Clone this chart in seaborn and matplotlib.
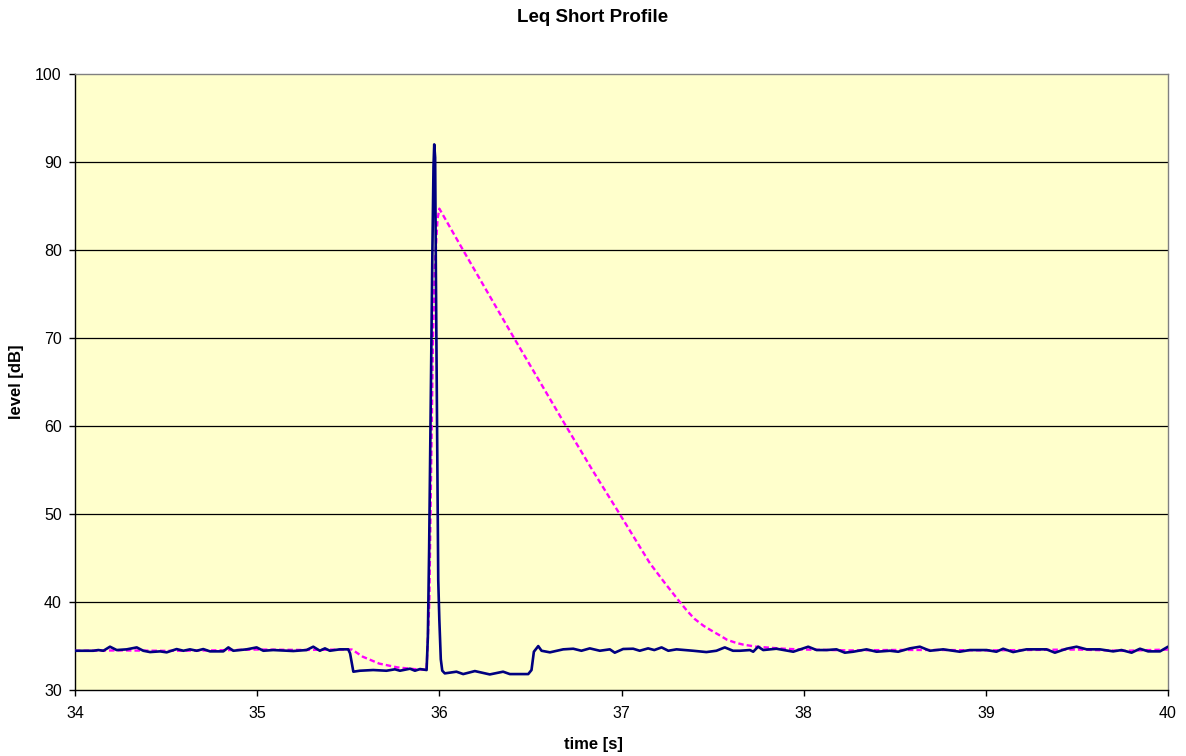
import matplotlib
matplotlib.use("Agg")
import matplotlib.pyplot as plt
import seaborn as sns

# Fast short-Leq trace (time in s, level in dB)
time_fast = [
    34.000, 34.100, 34.128, 34.156, 34.192, 34.229, 34.284, 34.339, 34.375, 34.412,
    34.467, 34.503, 34.558, 34.595, 34.631, 34.668, 34.704, 34.741, 34.814, 34.842,
    34.869, 34.942, 34.997, 35.034, 35.088, 35.198, 35.271, 35.308, 35.344, 35.372,
    35.399, 35.454, 35.500, 35.510, 35.528, 35.564, 35.637, 35.710, 35.756, 35.784,
    35.839, 35.866, 35.894, 35.930, 35.937, 35.944, 35.953, 35.962, 35.968, 35.972,
    35.977, 35.981, 35.989, 35.994, 36.000, 36.008, 36.016, 36.030, 36.094, 36.131,
    36.195, 36.277, 36.350, 36.387, 36.488, 36.506, 36.519, 36.543, 36.561, 36.607,
    36.680, 36.735, 36.780, 36.826, 36.881, 36.936, 36.963, 37.009, 37.064, 37.100,
    37.146, 37.180, 37.220, 37.257, 37.302, 37.393, 37.466, 37.521, 37.567, 37.612,
    37.650, 37.705, 37.723, 37.750, 37.778, 37.850, 37.890, 37.943, 38.025, 38.071,
    38.126, 38.180, 38.226, 38.272, 38.345, 38.400, 38.473, 38.519, 38.583, 38.638,
    38.693, 38.766, 38.857, 38.912, 39.004, 39.058, 39.095, 39.150, 39.223, 39.296,
    39.333, 39.379, 39.443, 39.498, 39.553, 39.626, 39.699, 39.745, 39.800, 39.846,
    39.891, 39.956, 40.000,
]
level_fast = [
    34.46, 34.46, 34.54, 34.46, 34.92, 34.54, 34.62, 34.84, 34.46, 34.31,
    34.39, 34.28, 34.65, 34.46, 34.62, 34.46, 34.65, 34.39, 34.39, 34.84,
    34.46, 34.62, 34.84, 34.46, 34.54, 34.43, 34.54, 34.92, 34.46, 34.73,
    34.46, 34.62, 34.62, 34.16, 32.08, 32.19, 32.27, 32.19, 32.35, 32.19,
    32.42, 32.19, 32.38, 32.27, 36.00, 46.00, 63.00, 80.00, 89.50, 92.00,
    90.50, 77.70, 55.80, 42.50, 38.00, 33.50, 32.20, 31.89, 32.08, 31.81,
    32.15, 31.77, 32.08, 31.81, 31.81, 32.27, 34.35, 34.99, 34.46, 34.28,
    34.62, 34.69, 34.46, 34.73, 34.46, 34.62, 34.24, 34.66, 34.69, 34.46,
    34.73, 34.54, 34.84, 34.46, 34.62, 34.46, 34.31, 34.46, 34.84, 34.46,
    34.46, 34.54, 34.35, 34.92, 34.54, 34.69, 34.54, 34.35, 34.92, 34.54,
    34.54, 34.62, 34.24, 34.35, 34.62, 34.35, 34.46, 34.35, 34.73, 34.92,
    34.46, 34.62, 34.35, 34.54, 34.54, 34.35, 34.69, 34.31, 34.62, 34.62,
    34.62, 34.24, 34.69, 34.92, 34.62, 34.62, 34.39, 34.54, 34.24, 34.69,
    34.39, 34.39, 34.92,
]

# Slow (decaying) envelope trace
time_slow = [
    34.00, 34.25, 34.50, 34.75, 35.00, 35.25, 35.50, 35.52, 35.58, 35.67,
    35.77, 35.86, 35.93, 35.945, 35.955, 35.965, 35.975, 35.99, 36.00, 36.13,
    36.41, 36.695, 36.84, 36.99, 37.156, 37.24, 37.32, 37.36, 37.40, 37.45,
    37.49, 37.54, 37.58, 37.63, 37.67, 37.74, 37.89, 38.00, 38.25, 38.50,
    38.75, 39.00, 39.25, 39.50, 39.75, 40.00,
]
level_slow = [
    34.45, 34.50, 34.45, 34.50, 34.60, 34.55, 34.60, 34.60, 33.78, 33.00,
    32.57, 32.38, 32.30, 40.00, 55.00, 70.00, 78.00, 83.50, 84.70, 80.00,
    70.00, 60.00, 55.00, 50.00, 44.40, 42.10, 40.00, 39.00, 38.10, 37.30,
    36.80, 36.20, 35.70, 35.35, 35.15, 34.92, 34.69, 34.60, 34.50, 34.55,
    34.55, 34.50, 34.55, 34.60, 34.45, 34.60,
]

y_ticks = [30, 40, 50, 60, 70, 80, 90, 100]
x_ticks = [34, 35, 36, 37, 38, 39, 40]

sns.set_theme(style="white")
plt.rcParams["font.family"] = ["Liberation Sans", "DejaVu Sans"]

W, H = 1186, 756
fig = plt.figure(figsize=(W / 100, H / 100), dpi=100)
fig.patch.set_facecolor("white")
left, right, top, bottom = 75, 1168, 74, 690
ax = fig.add_axes([left / W, 1 - bottom / H, (right - left) / W, (bottom - top) / H])
ax.set_facecolor("#FFFFCC")

sns.lineplot(x=time_slow, y=level_slow, ax=ax, estimator=None, sort=False,
             color="#FF00FF", linewidth=1.7, zorder=3)
ax.lines[-1].set_dashes((2.3, 1.3))
sns.lineplot(x=time_fast, y=level_fast, ax=ax, estimator=None, sort=False,
             color="#000080", linewidth=1.9, zorder=4,
             solid_joinstyle="round", solid_capstyle="round")

ax.set_xlim(34, 40)
ax.set_ylim(30, 100)
ax.set_xticks(x_ticks)
ax.set_yticks(y_ticks)
ax.set_xticklabels([str(v) for v in x_ticks])
ax.set_yticklabels([str(v) for v in y_ticks])

for y in y_ticks[1:-1]:
    ax.axhline(y, color="black", linewidth=0.9, zorder=1)

ax.spines["left"].set_color("black")
ax.spines["bottom"].set_color("black")
ax.spines["top"].set_color("#808080")
ax.spines["right"].set_color("#808080")
for s in ax.spines.values():
    s.set_linewidth(1.0)
    s.set_visible(True)

ax.tick_params(axis="both", direction="out", length=4.5, width=1.0, color="black",
               labelsize=11.5, labelcolor="black")
ax.tick_params(axis="y", pad=5, left=True)
ax.tick_params(axis="x", pad=7, bottom=True)
ax.set_xlabel("")
ax.set_ylabel("")

fig.text(0.5, 1 - 17 / H, "Leq Short Profile", ha="center", va="center",
         fontsize=13.5, fontweight="bold", color="black")
fig.text(0.5, 1 - 745 / H, "time [s]", ha="center", va="center",
         fontsize=12, fontweight="bold", color="black")
fig.text(17 / W, 1 - 382 / H, "level [dB]", ha="center", va="center", rotation=90,
         fontsize=12, fontweight="bold", color="black")

fig.savefig("out.png", dpi=100, facecolor="white")
